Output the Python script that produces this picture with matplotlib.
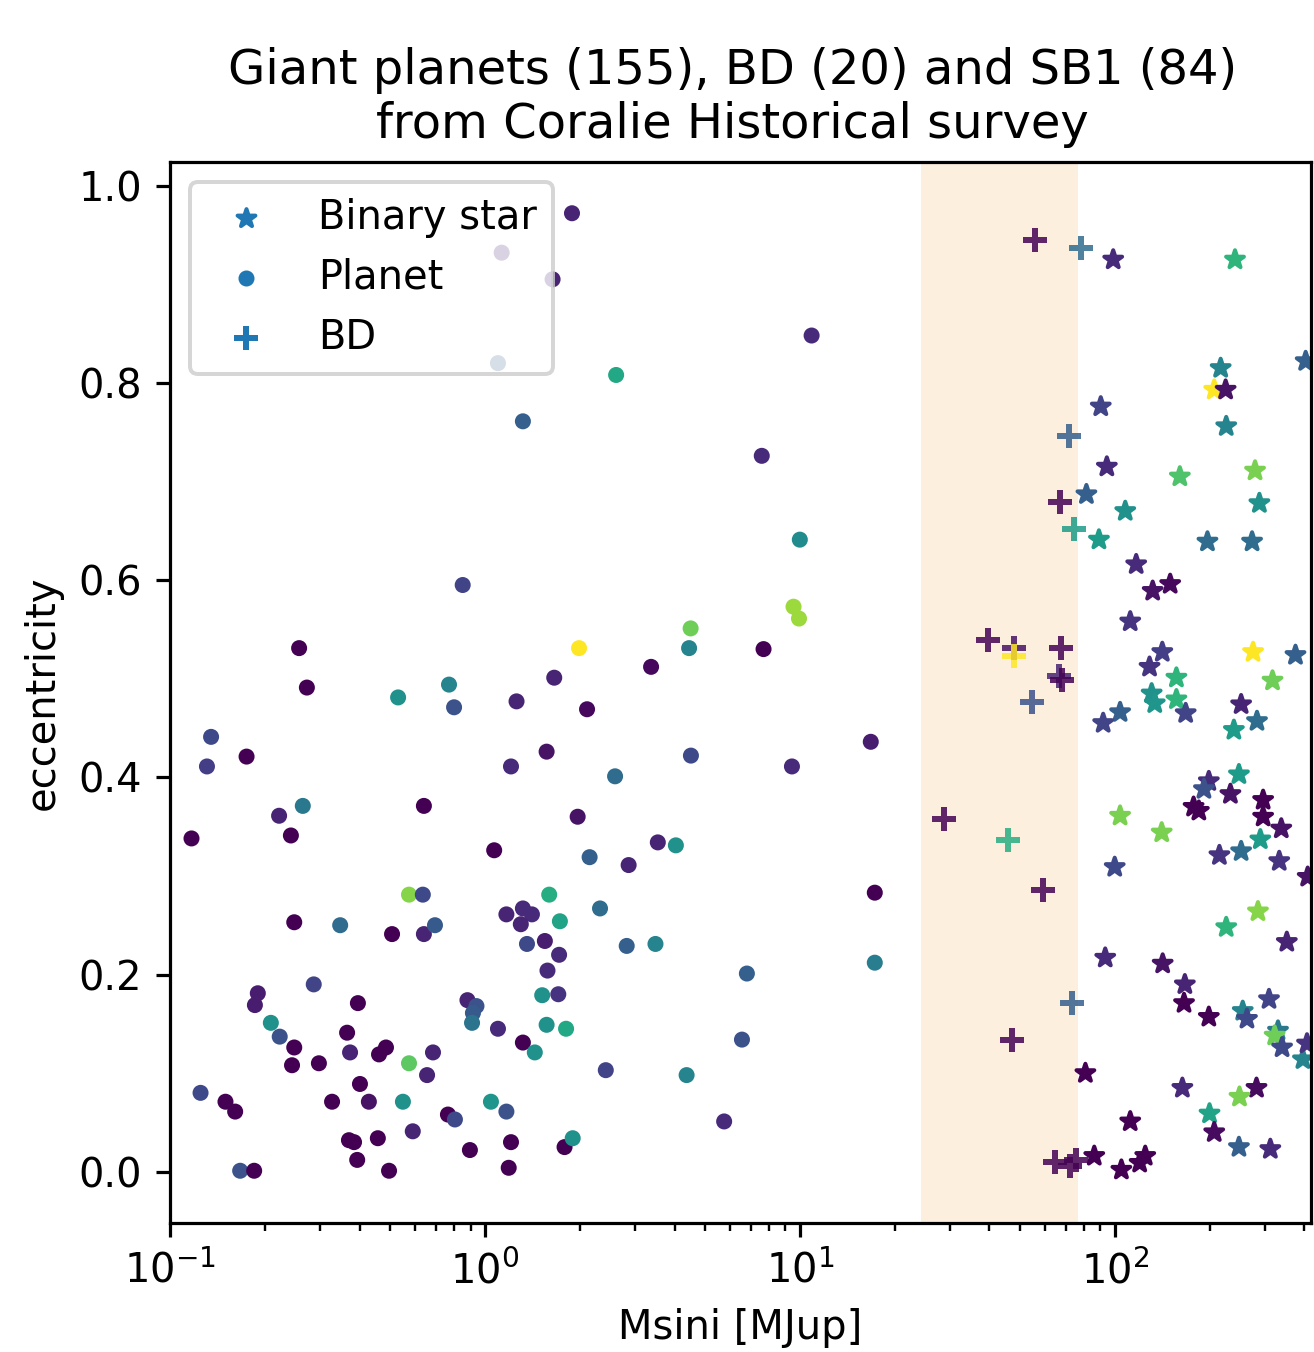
import matplotlib
matplotlib.use("Agg")
import matplotlib.pyplot as plt

# planets: Msini [MJup], eccentricity, colour value
planet_mass = [1.89, 1.13, 1.64, 1.10, 2.61, 1.32, 0.85, 0.257, 1.99, 3.37,
               0.272, 0.53, 0.769, 0.798, 1.66, 1.26, 2.11, 0.135, 0.131, 0.175,
               1.57, 1.21, 2.59, 0.264, 0.64, 0.222, 0.117, 0.242, 1.97, 3.54,
               1.07, 2.15, 2.86, 4.04, 0.574, 0.635, 1.60, 2.32, 1.17, 1.32,
               1.41, 1.30, 1.73, 0.248, 0.347, 0.507, 0.64, 0.694, 1.36, 1.55,
               1.72, 1.58, 0.286, 0.190, 0.186, 0.395, 0.88, 0.94, 0.916, 0.91,
               1.52, 1.71, 1.57, 1.81, 1.32, 1.44, 1.10, 2.42, 0.209, 0.223,
               0.248, 0.244, 0.297, 0.365, 0.373, 0.485, 0.461, 0.684, 0.574, 0.655,
               0.125, 0.150, 0.161, 0.401, 0.327, 0.428, 0.549, 0.763, 0.803, 1.045,
               1.17, 0.370, 0.384, 0.457, 0.59, 0.393, 0.896, 1.21, 1.19, 1.79,
               1.90, 0.167, 0.185, 0.496, 4.5, 4.45, 7.67, 16.8, 4.51, 9.44,
               17.3, 2.82, 3.48, 6.79, 17.3, 6.55, 4.37, 5.75, 10.9, 7.57,
               10.0, 9.55, 9.94]
planet_ecc = [0.972, 0.932, 0.905, 0.820, 0.808, 0.761, 0.595, 0.531, 0.531, 0.512,
              0.491, 0.481, 0.494, 0.471, 0.501, 0.477, 0.469, 0.441, 0.411, 0.421,
              0.426, 0.411, 0.401, 0.371, 0.371, 0.361, 0.338, 0.341, 0.360, 0.334,
              0.326, 0.319, 0.311, 0.331, 0.281, 0.281, 0.281, 0.267, 0.261, 0.267,
              0.261, 0.251, 0.254, 0.253, 0.250, 0.241, 0.241, 0.250, 0.231, 0.234,
              0.220, 0.204, 0.190, 0.181, 0.169, 0.171, 0.174, 0.168, 0.161, 0.151,
              0.179, 0.180, 0.149, 0.145, 0.131, 0.121, 0.145, 0.103, 0.151, 0.137,
              0.126, 0.108, 0.110, 0.141, 0.121, 0.126, 0.119, 0.121, 0.110, 0.098,
              0.080, 0.071, 0.061, 0.089, 0.071, 0.071, 0.071, 0.058, 0.053, 0.071,
              0.061, 0.032, 0.030, 0.034, 0.041, 0.012, 0.022, 0.030, 0.004, 0.025,
              0.034, 0.001, 0.001, 0.001, 0.551, 0.531, 0.530, 0.436, 0.422, 0.411,
              0.283, 0.229, 0.231, 0.201, 0.212, 0.134, 0.098, 0.051, 0.848, 0.726,
              0.641, 0.573, 0.561]
planet_c = [0.10, 0.10, 0.10, 0.30, 0.60, 0.30, 0.20, 0.00, 1.00, 0.02,
            0.00, 0.50, 0.45, 0.25, 0.10, 0.10, 0.02, 0.22, 0.18, 0.00,
            0.05, 0.12, 0.35, 0.40, 0.00, 0.10, 0.00, 0.00, 0.05, 0.10,
            0.00, 0.30, 0.10, 0.50, 0.82, 0.22, 0.62, 0.35, 0.10, 0.12,
            0.12, 0.10, 0.58, 0.00, 0.35, 0.00, 0.10, 0.28, 0.22, 0.08,
            0.12, 0.12, 0.20, 0.08, 0.08, 0.00, 0.10, 0.25, 0.28, 0.38,
            0.50, 0.15, 0.50, 0.60, 0.00, 0.50, 0.12, 0.20, 0.50, 0.25,
            0.00, 0.00, 0.00, 0.00, 0.10, 0.00, 0.00, 0.10, 0.75, 0.10,
            0.22, 0.00, 0.00, 0.00, 0.00, 0.05, 0.50, 0.00, 0.22, 0.52,
            0.25, 0.00, 0.00, 0.00, 0.10, 0.00, 0.00, 0.00, 0.00, 0.00,
            0.50, 0.25, 0.00, 0.00, 0.78, 0.45, 0.00, 0.08, 0.22, 0.12,
            0.00, 0.30, 0.45, 0.30, 0.42, 0.25, 0.45, 0.12, 0.12, 0.12,
            0.48, 0.85, 0.85]

# brown dwarfs
bd_mass = [56.0, 78.2, 71.4, 66.8, 74.0, 39.6, 47.9, 47.9, 67.5, 66.5,
           67.9, 54.8, 28.8, 45.8, 59.2, 73.0, 47.1, 64.6, 72.3, 75.5]
bd_ecc = [0.945, 0.937, 0.746, 0.679, 0.652, 0.539, 0.531, 0.523, 0.531, 0.503,
          0.499, 0.476, 0.358, 0.336, 0.286, 0.171, 0.134, 0.010, 0.006, 0.012]
bd_c = [0.00, 0.35, 0.30, 0.00, 0.55, 0.00, 0.05, 1.00, 0.00, 0.10,
        0.00, 0.25, 0.00, 0.62, 0.00, 0.30, 0.00, 0.00, 0.00, 0.00]

# spectroscopic binaries (SB1)
sb_mass = [98.9, 241, 404, 217, 207, 225, 90.3, 226, 94.4, 161,
           279, 81.3, 288, 108, 89.1, 197, 273, 117, 132, 150,
           112, 141.6, 129, 275, 375, 157, 317, 131, 134, 157,
           168, 104, 91.9, 252, 283, 239, 248, 199, 192, 233,
           296, 178, 185, 296, 338, 104, 141, 290, 215, 252,
           333, 100, 410, 285, 226, 352, 93.3, 142, 167, 166,
           199, 255, 263, 309, 330, 322, 340, 396, 408, 80.7,
           164, 282, 249, 200, 207, 112, 248, 312, 86.1, 105,
           120, 125]
sb_ecc = [0.925, 0.925, 0.822, 0.815, 0.793, 0.793, 0.776, 0.756, 0.715, 0.705,
          0.711, 0.687, 0.678, 0.670, 0.641, 0.639, 0.639, 0.616, 0.589, 0.596,
          0.558, 0.527, 0.512, 0.527, 0.524, 0.501, 0.498, 0.485, 0.475, 0.479,
          0.465, 0.466, 0.455, 0.474, 0.457, 0.448, 0.403, 0.396, 0.388, 0.383,
          0.377, 0.370, 0.366, 0.360, 0.348, 0.361, 0.344, 0.337, 0.321, 0.325,
          0.315, 0.309, 0.299, 0.264, 0.248, 0.233, 0.217, 0.211, 0.190, 0.171,
          0.157, 0.163, 0.155, 0.175, 0.143, 0.138, 0.126, 0.114, 0.130, 0.100,
          0.085, 0.085, 0.076, 0.059, 0.040, 0.051, 0.025, 0.023, 0.016, 0.002,
          0.009, 0.016]
sb_c = [0.12, 0.65, 0.30, 0.45, 1.00, 0.05, 0.20, 0.45, 0.12, 0.72,
        0.80, 0.30, 0.50, 0.50, 0.55, 0.35, 0.35, 0.12, 0.05, 0.02,
        0.15, 0.18, 0.15, 1.00, 0.30, 0.65, 0.78, 0.50, 0.52, 0.65,
        0.20, 0.30, 0.20, 0.10, 0.35, 0.55, 0.55, 0.12, 0.25, 0.05,
        0.00, 0.00, 0.00, 0.00, 0.05, 0.80, 0.80, 0.55, 0.15, 0.35,
        0.15, 0.22, 0.05, 0.82, 0.65, 0.10, 0.12, 0.05, 0.10, 0.00,
        0.00, 0.45, 0.22, 0.20, 0.40, 0.78, 0.22, 0.45, 0.15, 0.00,
        0.12, 0.03, 0.80, 0.58, 0.03, 0.00, 0.30, 0.12, 0.00, 0.00,
        0.00, 0.00]

bd_band = (24.3, 76.5)

fig = plt.figure(figsize=(1314 / 288, 1352 / 288), dpi=288)
ax = fig.add_axes([0.1294, 0.0954, 0.8683, 0.7848])

ax.axvspan(bd_band[0], bd_band[1], color='#fdefde', lw=0, zorder=0)

ax.scatter(sb_mass, sb_ecc, c=sb_c, cmap='viridis', vmin=0, vmax=1,
           marker='*', s=22, label='Binary star')
ax.scatter(planet_mass, planet_ecc, c=planet_c, cmap='viridis', vmin=0, vmax=1,
           marker='o', s=9, label='Planet')
ax.scatter(bd_mass, bd_ecc, c=bd_c, cmap='viridis', vmin=0, vmax=1,
           marker='+', s=36, alpha=0.85, label='BD')

ax.set_xscale('log')
ax.set_xlim(0.1, 420)
ax.set_ylim(-0.052, 1.024)

ax.set_xlabel('Msini [MJup]')
ax.set_ylabel('eccentricity')
ax.set_title('Giant planets (155), BD (20) and SB1 (84)\nfrom Coralie Historical survey',
             x=0.493)

leg = ax.legend(loc='upper left')
for h in leg.legend_handles:
    # drop the colour mapping so the legend markers show plain blue
    h.set_array(None)
    h.set_color('C0')
    h.set_alpha(1)

fig.savefig('out.png', dpi=288)
